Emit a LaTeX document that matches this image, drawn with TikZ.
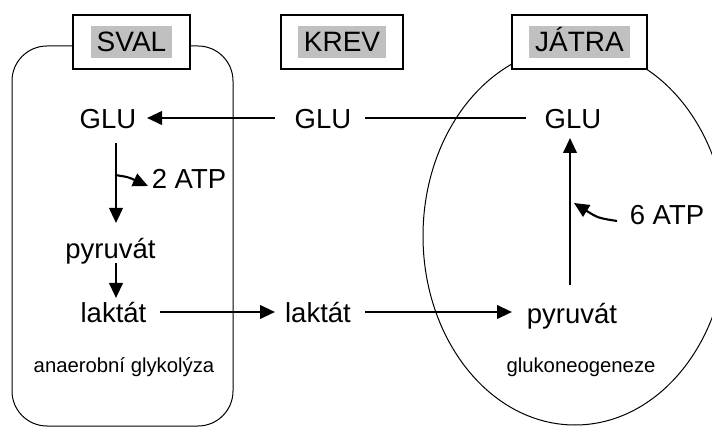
\documentclass[tikz,border=0pt]{standalone}
\usepackage{fontspec}
\setmainfont{Liberation Sans}
\usetikzlibrary{arrows.meta,calc}
\definecolor{silv}{RGB}{192,192,192}
\begin{document}
\begin{tikzpicture}[x=1pt,y=-1pt,
  txt/.style={font=\fontsize{27.5}{32}\selectfont, inner sep=0pt, anchor=base},
  smalltxt/.style={font=\fontsize{20.3}{24}\selectfont, inner sep=0pt, anchor=base},
  labbox/.style={draw, line width=2.2pt, fill=white, minimum height=54pt, inner sep=0pt},
  hl/.style={fill=silv, font=\fontsize{28}{33}\selectfont, inner xsep=6pt, inner ysep=0pt, text height=26pt, text depth=6.5pt},
  arr/.style={line width=2.4pt, -{Triangle[length=15pt,width=13.5pt]}},
  thinline/.style={line width=1pt},
  plainline/.style={line width=1.5pt}
]
\useasboundingbox (0,0) rectangle (712,427);
% regions
\draw[thinline, rounded corners=35pt] (12,46) rectangle (233,426);
\draw[thinline] (575,236) ellipse [x radius=152pt, y radius=189pt];
% label boxes
\node[labbox, minimum width=117pt] (svalbox) at (131.5,42) {};
\node[labbox, minimum width=122pt] (krevbox) at (342,42) {};
\node[labbox, minimum width=135pt] (jatrabox) at (579.5,42) {};
\node[hl] (sval) at (svalbox.center) {SVAL};
\node[hl] (krev) at (krevbox.center) {KREV};
\node[hl] (jatra) at (jatrabox.center) {JÁTRA};
% texts
\node[txt] (glus) at (108,129) {GLU};
\node[txt] (glum) at (323,129) {GLU};
\node[txt] (glur) at (573,129) {GLU};
\node[txt] (pyr1) at (110.5,259) {pyruvát};
\node[txt] (lak1) at (113.5,323) {laktát};
\node[txt] (lak2) at (318,323) {laktát};
\node[txt] (pyr2) at (572,324) {pyruvát};
\node[txt] (atp2) at (189,189) {2 ATP};
\node[txt] (atp6) at (667,225) {6 ATP};
\node[smalltxt] (anaer) at (124,373) {anaerobní glykolýza};
\node[smalltxt] (gluk) at (581,373) {glukoneogeneze};
% connectors
\draw[arr] ($(glum.base)+(-48,-11)$) -- ($(glus.base)+(39,-11)$);
\draw[plainline] ($(glum.base)+(42,-11)$) -- ($(glur.base)+(-47,-11)$);
\draw[arr] ($(glus.base)+(8,14)$) -- ($(pyr1.base)+(5.5,-36)$);
\draw[arr] ($(pyr1.base)+(5.5,4)$) -- ($(lak1.base)+(2.5,-25)$);
\draw[arr] ($(lak1.base)+(46.5,-11)$) -- ($(lak2.base)+(-43,-11)$);
\draw[arr] ($(lak2.base)+(47,-11)$) -- ($(pyr2.base)+(-60,-12)$);
\draw[arr] ($(pyr2.base)+(-2,-39)$) -- ($(glur.base)+(-3,9)$);
\coordinate (atp2src) at ($(atp2.base)+(-74,-14)$);
\draw[arr, line width=2.1pt] (atp2src) .. controls ($(atp2.base)+(-61,-12)$) .. ($(atp2.base)+(-41,-3)$);
\coordinate (atp6src) at ($(atp6.base)+(-50,-4)$);
\draw[arr, line width=2.1pt] (atp6src) .. controls ($(atp6.base)+(-69,-7)$) .. ($(atp6.base)+(-93,-22)$);
\end{tikzpicture}
\end{document}
